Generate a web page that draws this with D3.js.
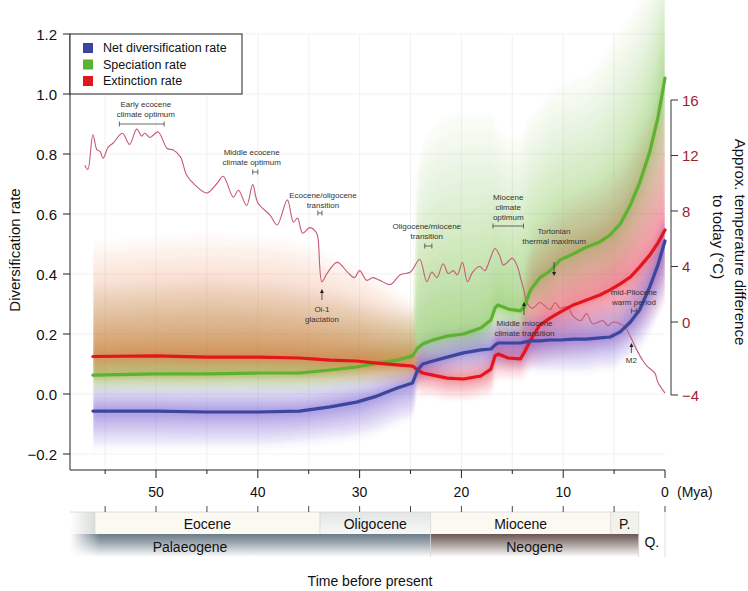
<!DOCTYPE html>
<html><head><meta charset="utf-8">
<script src="https://cdn.jsdelivr.net/npm/d3@7/dist/d3.min.js"></script>
<style>
html,body{margin:0;padding:0;background:#fff;}
svg{display:block;font-family:"Liberation Sans",Arial,Helvetica,sans-serif;}
</style></head>
<body>
<svg id="chart" width="748" height="591"></svg>
<script>
// ---------- data ----------
const rateTime = [56.2,50.0,45.0,40.0,35.9,32.9,30.3,28.3,26.3,24.8,24.3,23.8,22.8,21.4,19.8,18.1,17.1,16.7,16.4,15.4,14.2,13.8,13.2,12.3,11.3,10.3,9.0,7.7,6.4,5.4,4.4,3.4,2.5,1.5,0.7,0.0];
const speciation = [0.063,0.067,0.067,0.07,0.07,0.08,0.09,0.103,0.113,0.127,0.153,0.167,0.18,0.193,0.2,0.22,0.247,0.287,0.297,0.283,0.277,0.293,0.347,0.387,0.41,0.447,0.467,0.49,0.507,0.53,0.567,0.63,0.703,0.807,0.92,1.053];
const extinction = [0.125,0.127,0.123,0.123,0.12,0.113,0.11,0.103,0.097,0.093,0.08,0.07,0.063,0.053,0.05,0.06,0.083,0.127,0.133,0.12,0.117,0.14,0.18,0.23,0.253,0.273,0.297,0.313,0.33,0.347,0.367,0.39,0.423,0.463,0.503,0.547];
const netDiversification = [-0.057,-0.057,-0.06,-0.06,-0.057,-0.043,-0.027,-0.007,0.02,0.037,0.08,0.1,0.11,0.123,0.137,0.147,0.15,0.163,0.17,0.17,0.17,0.173,0.177,0.177,0.18,0.18,0.183,0.183,0.187,0.19,0.207,0.24,0.28,0.357,0.43,0.51];
// uncertainty envelopes (approximate outer edges of the shaded clouds)
const specUpper = [0.36,0.38,0.39,0.38,0.36,0.34,0.32,0.3,0.29,0.28,0.75,0.82,0.88,0.92,0.93,0.93,0.93,0.9,0.88,0.85,0.85,0.88,0.92,0.95,1.0,1.02,1.04,1.06,1.1,1.15,1.2,1.25,1.3,1.36,1.42,1.48];
const specLower = [0.0,0.0,0.0,0.0,0.0,0.01,0.02,0.03,0.04,0.05,0.08,0.09,0.1,0.11,0.12,0.13,0.15,0.18,0.19,0.18,0.18,0.19,0.22,0.24,0.26,0.29,0.3,0.32,0.33,0.34,0.36,0.4,0.45,0.5,0.55,0.6];
const extUpper = [0.5,0.52,0.53,0.52,0.5,0.46,0.42,0.38,0.34,0.3,0.17,0.15,0.14,0.13,0.13,0.14,0.17,0.22,0.24,0.24,0.26,0.4,0.5,0.56,0.6,0.63,0.66,0.68,0.7,0.73,0.77,0.82,0.87,0.92,0.97,1.02];
const extLower = [0.03,0.03,0.03,0.03,0.03,0.03,0.03,0.03,0.03,0.03,0.0,-0.01,-0.01,-0.02,-0.02,-0.01,0.0,0.04,0.05,0.05,0.05,0.06,0.08,0.09,0.1,0.11,0.12,0.13,0.14,0.15,0.16,0.18,0.2,0.23,0.26,0.3];
const netUpper = [0.04,0.04,0.04,0.04,0.04,0.05,0.06,0.07,0.08,0.09,0.16,0.19,0.2,0.21,0.22,0.23,0.24,0.25,0.26,0.26,0.26,0.27,0.27,0.27,0.28,0.28,0.29,0.29,0.3,0.31,0.33,0.37,0.42,0.48,0.54,0.6];
const netLower = [-0.18,-0.18,-0.18,-0.18,-0.17,-0.16,-0.15,-0.13,-0.1,-0.08,0.02,0.04,0.05,0.06,0.07,0.07,0.07,0.08,0.08,0.08,0.08,0.08,0.08,0.07,0.07,0.07,0.07,0.07,0.08,0.08,0.1,0.12,0.15,0.2,0.26,0.32];

const tempTime = [57.0,56.7,56.2,55.8,55.5,55.2,54.7,54.2,53.3,52.6,51.9,51.4,51.1,50.6,49.8,48.9,48.3,47.6,47.0,46.2,45.0,44.0,43.4,42.4,41.9,41.1,40.5,40.0,38.8,38.1,37.1,36.5,36.1,35.6,34.9,34.3,34.1,33.7,33.2,32.2,31.2,30.5,30.0,29.3,28.7,28.0,27.0,26.0,25.0,24.1,23.4,22.9,22.4,21.8,21.3,20.8,20.4,19.9,19.4,18.9,18.2,17.7,17.2,16.7,16.2,15.9,15.5,15.0,14.5,14.2,13.8,13.6,13.0,12.3,11.3,10.8,10.3,9.6,9.0,8.3,7.7,7.1,6.1,5.6,5.1,4.4,3.9,3.4,2.8,2.2,1.8,1.0,0.7,0.0];
const tempDiff = [11.3,11.0,13.5,12.4,12.3,11.8,12.6,12.9,13.6,12.8,13.9,13.4,13.6,13.3,13.7,12.5,12.4,11.9,10.6,9.9,9.3,10.0,10.5,9.0,9.5,8.4,9.9,8.6,7.7,7.0,8.8,7.2,7.5,6.4,6.8,6.5,6.1,2.9,3.5,4.3,3.6,3.2,3.7,3.0,3.2,3.0,2.7,3.4,3.6,4.5,2.9,3.6,3.2,4.2,3.5,3.7,3.4,4.3,2.9,3.6,4.0,3.7,4.5,5.3,4.7,4.1,4.3,4.6,4.0,3.2,2.1,1.4,1.0,1.4,0.9,1.4,1.0,1.1,0.4,0.1,0.6,-0.1,0.1,-0.2,0.0,-0.1,-0.3,-0.8,-1.5,-2.1,-2.4,-2.8,-3.3,-3.9];

const xMajorTicks = [50,40,30,20,10,0];
const xMinorTicks = [55,45,35,25,15,5];
const yTicks = [-0.2,0.0,0.2,0.4,0.6,0.8,1.0,1.2];
const tempTicks = [16,12,8,4,0,-4];

const epochNames = ["", "Eocene", "Oligocene", "Miocene", "P."];
const epochStart = [58.45, 56.0, 33.9, 23.03, 5.33];
const epochEnd   = [56.0, 33.9, 23.03, 5.33, 2.58];
const periodNames = ["Palaeogene", "Neogene"];
const periodStart = [58.45, 23.03];
const periodEnd = [23.03, 2.58];
const quaternary = {name:"Q.", start:2.58, end:0};

const seriesNames = ["Net diversification rate","Speciation rate","Extinction rate"];
const seriesColors = ["#3b469c","#5cb32f","#e3161d"];

// ---------- scales ----------
const svg = d3.select("#chart");
const x = d3.scaleLinear().domain([58.45, 0]).range([70, 665]);
const y = d3.scaleLinear().domain([-0.2, 1.2]).range([454, 34]);
const yT = d3.scaleLinear().domain([-4, 0, 16]).range([395, 322, 100]);
const axisY = 470;

const defs = svg.append("defs");
defs.append("clipPath").attr("id","plotclip").append("rect")
  .attr("x", x(56.2)).attr("y", 0).attr("width", x(0)-x(56.2)).attr("height", axisY-8);
const blur = defs.append("filter").attr("id","soft").attr("x","-5%").attr("y","-5%").attr("width","110%").attr("height","110%");
blur.append("feGaussianBlur").attr("stdDeviation","1.2 2.5");

function vgrad(id, stops){
  const g = defs.append("linearGradient").attr("id",id).attr("x1",0).attr("y1",0).attr("x2",0).attr("y2",1);
  stops.forEach(s=>g.append("stop").attr("offset",s[0]).attr("stop-color",s[1]));
}
function hgrad(id, stops){
  const g = defs.append("linearGradient").attr("id",id).attr("x1",0).attr("y1",0).attr("x2",1).attr("y2",0);
  stops.forEach(s=>g.append("stop").attr("offset",s[0]).attr("stop-color",s[1]));
}
vgrad("gPal", [[0,"#6c7c89"],[0.35,"#97a3ac"],[1,"#ffffff"]]);
vgrad("gNeo", [[0,"#6a5753"],[0.35,"#9c8f8b"],[1,"#ffffff"]]);
vgrad("gOli", [[0,"#e3e6e5"],[1,"#f7f8f6"]]);
hgrad("gPaleo", [[0,"#ffffff"],[1,"#d9ddd7"]]);
hgrad("gFadeL", [[0,"#ffffff"],[1,"rgba(255,255,255,0)"]]);
// extinction cloud hue: orange-red in the Palaeogene part, pink-red later
const gx0 = x(56.2), gx1 = x(0);
const redGrad = defs.append("linearGradient").attr("id","gRed").attr("gradientUnits","userSpaceOnUse")
  .attr("x1",gx0).attr("y1",0).attr("x2",gx1).attr("y2",0);
[[0,"#e2561e"],[(x(24.6)-gx0)/(gx1-gx0),"#e4501f"],[(x(23.9)-gx0)/(gx1-gx0),"#e82a3c"],[1,"#ec2a4a"]]
  .forEach(s=>redGrad.append("stop").attr("offset",s[0]).attr("stop-color",s[1]));

// ---------- grid ----------
const grid = svg.append("g").attr("stroke","#ededed").attr("stroke-width",0.8);
[55,50,45,40,35,30,25,20,15,10,5].forEach(t=>{
  grid.append("line").attr("x1",x(t)).attr("x2",x(t)).attr("y1",y(1.2)).attr("y2",axisY);
});
yTicks.forEach(v=>{
  grid.append("line").attr("x1",70).attr("x2",x(0)).attr("y1",y(v)).attr("y2",y(v));
});

// ---------- uncertainty clouds ----------
const cloudOuter = svg.append("g").attr("clip-path","url(#plotclip)");
const cloud = cloudOuter.append("g").attr("filter","url(#soft)");
function drawCloud(center, upper, lower, color, n, op, pw){
  const g = cloud.append("g");
  for(let k=n;k>=1;k--){
    const f = Math.pow(k/n, pw);
    const area = d3.area()
      .x((d,i)=>x(rateTime[i]))
      .y0((d,i)=>y(center[i] - (center[i]-lower[i])*f))
      .y1((d,i)=>y(center[i] + (upper[i]-center[i])*f))
      .curve(d3.curveMonotoneX);
    g.append("path").datum(center).attr("d", area)
      .attr("fill", color).attr("fill-opacity", op);
  }
}
drawCloud(speciation, specUpper, specLower, "#5cb82e", 22, 0.04, 1.8);
drawCloud(extinction, extUpper, extLower, "url(#gRed)", 22, 0.04, 2.0);
drawCloud(netDiversification, netUpper, netLower, "#6a4cc0", 22, 0.04, 1.6);

// ---------- temperature ----------
const tline = d3.line().x((d,i)=>x(tempTime[i])).y(d=>yT(d)).curve(d3.curveCatmullRom.alpha(0.5));
svg.append("path").datum(tempDiff).attr("d", tline)
  .attr("fill","none").attr("stroke","#c65b73").attr("stroke-width",1.1);

// ---------- rate lines ----------
const rline = d3.line().x((d,i)=>x(rateTime[i])).y(d=>y(d));
[[speciation,seriesColors[1]],[extinction,seriesColors[2]],[netDiversification,seriesColors[0]]].forEach(s=>{
  svg.append("path").datum(s[0]).attr("d", rline)
    .attr("fill","none").attr("stroke",s[1]).attr("stroke-width",3.2)
    .attr("stroke-linejoin","round").attr("stroke-linecap","round");
});

// ---------- annotations ----------
const ann = svg.append("g").attr("font-size",8).attr("fill","#333").attr("text-anchor","middle");
function label(lines, cx, cy){
  lines.forEach((l,i)=>ann.append("text").attr("x",cx).attr("y",cy+i*10).attr("dominant-baseline","central").text(l));
}
function range(x1, x2, yy){
  const g = ann.append("g").attr("stroke","#444").attr("stroke-width",0.8);
  g.append("line").attr("x1",x1).attr("x2",x2).attr("y1",yy).attr("y2",yy);
  g.append("line").attr("x1",x1).attr("x2",x1).attr("y1",yy-2.5).attr("y2",yy+2.5);
  g.append("line").attr("x1",x2).attr("x2",x2).attr("y1",yy-2.5).attr("y2",yy+2.5);
}
function arrow(xx, yFrom, yTo){
  ann.append("line").attr("x1",xx).attr("x2",xx).attr("y1",yFrom).attr("y2",yTo+ (yTo<yFrom?3:-3))
    .attr("stroke","#333").attr("stroke-width",0.8);
  const d = yTo<yFrom ? 1 : -1;
  ann.append("path").attr("d",`M${xx},${yTo} L${xx-2},${yTo+4*d} L${xx+2},${yTo+4*d} Z`).attr("fill","#222");
}
label(["Early ecocene","climate optimum"], x(51.0), 104);
range(x(53.6), x(49.2), 124);
label(["Middle ecocene","climate optimum"], x(40.6), 152);
range(x(40.5), x(40.0), 172);
label(["Ecocene/oligocene","transition"], x(33.6), 195);
range(x(34.1), x(33.7), 213);
label(["Oi-1","glaciation"], x(33.7), 309);
arrow(x(33.7), 300, 289);
label(["Oligocene/miocene","transition"], x(23.4), 226);
range(x(23.6), x(22.9), 246);
label(["Miocene","climate","optimum"], x(15.4), 197);
range(x(16.9), x(13.9), 226);
label(["Tortonian","thermal maximum"], x(10.9), 231);
arrow(x(10.9), 262, 276);
label(["Middle miocene","climate transition"], x(13.8), 323);
arrow(x(13.85), 315, 302);
label(["mid-Pliocene","warm period"], x(3.05), 292);
range(x(3.3), x(2.8), 311);
label(["M2"], x(3.3), 360);
arrow(x(3.3), 353, 343);

// ---------- left axis ----------
const ax = svg.append("g").attr("stroke","#222").attr("stroke-width",1);
ax.append("line").attr("x1",70).attr("x2",70).attr("y1",y(1.2)).attr("y2",axisY);
ax.append("line").attr("x1",70).attr("x2",x(0)).attr("y1",axisY).attr("y2",axisY);
yTicks.forEach(v=>{
  ax.append("line").attr("x1",63).attr("x2",70).attr("y1",y(v)).attr("y2",y(v));
  svg.append("text").attr("x",57).attr("y",y(v)).attr("dominant-baseline","central")
    .attr("text-anchor","end").attr("font-size",15).attr("fill","#111")
    .text(d3.format(".1f")(v).replace("-","\u2212"));
});
svg.append("text").attr("transform","translate(14,250) rotate(-90)")
  .attr("text-anchor","middle").attr("dominant-baseline","central").attr("font-size",15).attr("fill","#111")
  .text("Diversification rate");

// ---------- bottom axis ----------
xMajorTicks.forEach(t=>{
  ax.append("line").attr("x1",x(t)).attr("x2",x(t)).attr("y1",axisY).attr("y2",axisY+8);
  svg.append("text").attr("x",x(t)).attr("y",492).attr("dominant-baseline","central")
    .attr("text-anchor","middle").attr("font-size",14).attr("fill","#111").text(t);
});
xMinorTicks.forEach(t=>{
  ax.append("line").attr("x1",x(t)).attr("x2",x(t)).attr("y1",axisY).attr("y2",axisY+4);
});
svg.append("text").attr("x",677).attr("y",492).attr("dominant-baseline","central")
  .attr("font-size",14).attr("fill","#111").text("(Mya)");

// ---------- time scale bars ----------
const rowTop = 512, rowMid = 534, rowBot = 557;
const bars = svg.append("g");
const epochFills = ["url(#gPaleo)","#fcf9f3","url(#gOli)","#fcf9f3","#f3f3ee"];
epochNames.forEach((n,i)=>{
  bars.append("rect").attr("x",x(epochStart[i])).attr("y",rowTop)
    .attr("width",x(epochEnd[i])-x(epochStart[i])).attr("height",rowMid-rowTop)
    .attr("fill",epochFills[i]);
  if(n) svg.append("text").attr("x",(x(epochStart[i])+x(epochEnd[i]))/2).attr("y",(rowTop+rowMid)/2+1)
    .attr("dominant-baseline","central").attr("text-anchor","middle").attr("font-size",14).attr("fill","#111").text(n);
});
const periodFills = ["url(#gPal)","url(#gNeo)"];
const periodLabelX = [190, null];
periodNames.forEach((n,i)=>{
  bars.append("rect").attr("x",x(periodStart[i])).attr("y",rowMid)
    .attr("width",x(periodEnd[i])-x(periodStart[i])).attr("height",rowBot-rowMid)
    .attr("fill",periodFills[i]);
  const lx = periodLabelX[i] || (x(periodStart[i])+x(periodEnd[i]))/2;
  svg.append("text").attr("x",lx).attr("y",(rowMid+rowBot)/2+1)
    .attr("dominant-baseline","central").attr("text-anchor","middle").attr("font-size",14).attr("fill","#111").text(n);
});
bars.append("rect").attr("x",70).attr("y",rowMid).attr("width",30).attr("height",rowBot-rowMid).attr("fill","url(#gFadeL)");
// separators
const sep = svg.append("g").attr("stroke","#d6d6d6").attr("stroke-width",0.8);
epochStart.slice(1).forEach(t=>sep.append("line").attr("x1",x(t)).attr("x2",x(t)).attr("y1",rowTop).attr("y2",rowMid));
sep.append("line").attr("x1",x(23.03)).attr("x2",x(23.03)).attr("y1",rowMid).attr("y2",rowBot);
sep.append("line").attr("x1",x(2.58)).attr("x2",x(2.58)).attr("y1",rowTop).attr("y2",rowBot);
sep.append("line").attr("x1",x(0)).attr("x2",x(0)).attr("y1",rowTop).attr("y2",rowBot);
sep.append("line").attr("x1",70).attr("x2",x(2.58)).attr("y1",rowTop).attr("y2",rowTop);
svg.append("text").attr("x",(x(quaternary.start)+x(quaternary.end))/2).attr("y",542)
  .attr("dominant-baseline","central").attr("text-anchor","middle").attr("font-size",14).attr("fill","#111").text(quaternary.name);
// ticks atop the epoch row
const bt = svg.append("g").attr("stroke","#333").attr("stroke-width",0.9);
xMajorTicks.concat(xMinorTicks).forEach(t=>{
  bt.append("line").attr("x1",x(t)).attr("x2",x(t)).attr("y1",rowTop-6).attr("y2",rowTop);
});
svg.append("text").attr("x",370).attr("y",581).attr("dominant-baseline","central")
  .attr("text-anchor","middle").attr("font-size",14).attr("fill","#111").text("Time before present");

// ---------- right axis ----------
const rx = 671;
const rax = svg.append("g").attr("stroke","#333").attr("stroke-width",1);
rax.append("line").attr("x1",rx).attr("x2",rx).attr("y1",yT(16)).attr("y2",yT(-4));
tempTicks.forEach(v=>{
  rax.append("line").attr("x1",rx).attr("x2",rx+7).attr("y1",yT(v)).attr("y2",yT(v));
  svg.append("text").attr("x",rx+11).attr("y",yT(v)).attr("dominant-baseline","central")
    .attr("font-size",15).attr("fill","#9b1f35").text(String(v).replace("-","\u2212"));
});
svg.append("text").attr("transform","translate(740,242) rotate(90)")
  .attr("text-anchor","middle").attr("dominant-baseline","central").attr("font-size",15).attr("fill","#111")
  .text("Approx. temperature difference");
svg.append("text").attr("transform","translate(718,237) rotate(90)")
  .attr("text-anchor","middle").attr("dominant-baseline","central").attr("font-size",15).attr("fill","#111")
  .text("to today (\u00B0C)");

// ---------- legend ----------
const lg = svg.append("g");
lg.append("rect").attr("x",70).attr("y",y(1.2)).attr("width",172).attr("height",y(1.0)-y(1.2))
  .attr("fill","#fff").attr("stroke","#222").attr("stroke-width",1);
seriesNames.forEach((n,i)=>{
  const cy = 48 + i*16.5;
  lg.append("rect").attr("x",83).attr("y",cy-5).attr("width",10).attr("height",10).attr("fill",seriesColors[i]);
  lg.append("text").attr("x",103).attr("y",cy).attr("dominant-baseline","central")
    .attr("font-size",12.5).attr("fill","#111").text(n);
});
</script>
</body></html>
